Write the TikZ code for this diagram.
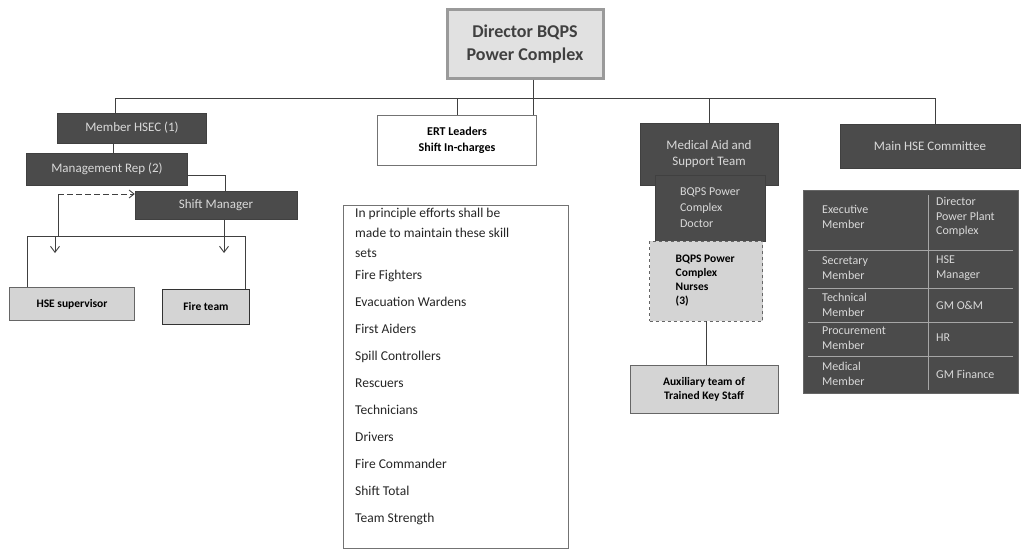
\documentclass[tikz,border=0pt]{standalone}
\usepackage{fontspec}
\setmainfont{Carlito}
\usetikzlibrary{arrows.meta, positioning, calc}

\definecolor{boxdark}{HTML}{4B4B4B}
\definecolor{boxlight}{HTML}{D4D4D4}
\definecolor{framegray}{HTML}{9A9A9A}

\begin{document}
\begin{tikzpicture}[x=1pt, y=-1pt,
        topbox/.style={rectangle, draw=framegray, line width=3pt, fill=boxlight!70!white, font=\bfseries\fontsize{18}{23}\selectfont, text=black!75, align=center},
        darkbox/.style={rectangle, draw=black!75, fill=boxdark, text=white!85!black, font=\fontsize{13}{16}\selectfont, align=center, inner sep=2pt},
        lightbox/.style={rectangle, draw=black!60, fill=boxlight, font=\bfseries\fontsize{11.5}{14}\selectfont, align=center, inner sep=2pt},
        plainbox/.style={rectangle, draw=black!55, line width=0.8pt, fill=white},
        cell/.style={font=\fontsize{12}{14.5}\selectfont, text=white!85!black, align=left, anchor=west, inner sep=0pt},
        link/.style={draw=black!75, line width=0.9pt},
        arrv/.style={link, -{Straight Barb[length=6pt, width=9pt]}},
        dasharr/.style={link, dash pattern=on 6pt off 3pt, -{Straight Barb[length=5pt, width=8pt]}}
    ]
        \useasboundingbox (0,0) rectangle (1024,551);

        % top of the tree
        \node[topbox, minimum width=156, minimum height=68] (dir) at (525,44) {Director BQPS\\Power Complex};
        \coordinate (busW) at (115,98);
        \coordinate (busE) at (935,98);

        % left branch
        \node[darkbox, minimum width=149, minimum height=30] (member) at (132,128) {Member HSEC (1)};
        \node[darkbox, minimum width=161, minimum height=32] (mgmt) at (107,169) {Management Rep (2)};
        \node[darkbox, minimum width=162, minimum height=28] (shift) at (216,205) {Shift Manager};
        \node[lightbox, minimum width=125, minimum height=33] (hsesup) at (72,304) {HSE supervisor};
        \node[lightbox, draw=black!80, line width=1pt, minimum width=87, minimum height=35] (fire) at (206,307) {Fire team};
        \coordinate (split) at (58,194);
        \coordinate (barW) at (27,236);
        \coordinate (barE) at (245,236);
        \coordinate (tipL) at (55,253);
        \coordinate (tipR) at (224,253);

        % middle branch
        \node[plainbox, minimum width=159, minimum height=50, font=\bfseries\fontsize{12}{16}\selectfont, align=center] (ert) at (457,140) {ERT Leaders\\Shift In-charges};
        \node[plainbox, minimum width=225, minimum height=343] (skills) at (455.5,376.5) {};
        \node[anchor=north west, align=left, inner sep=0pt, font=\fontsize{13.5}{20}\selectfont, text=black!85] (skilllist) at (355,208) {In principle efforts shall be\\ made to maintain these skill\\ sets\\[2pt] Fire Fighters\\[7pt] Evacuation Wardens\\[7pt] First Aiders\\[7pt] Spill Controllers\\[7pt] Rescuers\\[7pt] Technicians\\[7pt] Drivers\\[7pt] Fire Commander\\[7pt] Shift Total\\[7pt] Team Strength};

        % medical branch
        \node[darkbox, minimum width=138, minimum height=62] (medteam) at (709,154) {Medical Aid and\\Support Team};
        \node[darkbox, minimum width=110, minimum height=66, align=left, font=\fontsize{12}{16}\selectfont] (doctor) at (710,208) {BQPS Power\\Complex\\Doctor\phantom{xxxxx}};
        \node[lightbox, dashed, minimum width=113, minimum height=80, align=left] (nurses) at (706,281) {BQPS Power\\Complex\\Nurses\\(3)\phantom{xxxxxxxxx}};
        \node[lightbox, minimum width=148, minimum height=48] (aux) at (704,389) {Auxiliary team of\\Trained Key Staff};

        % committee branch
        \node[darkbox, minimum width=180, minimum height=44] (hsecom) at (930,146) {Main HSE Committee};
        \node[rectangle, draw=black!60, fill=boxdark, minimum width=215, minimum height=203] (hsetable) at (910.5,291.5) {};
        \foreach \ry in {250,288,322,356}
            \draw[black!35, line width=0.8pt] (808,\ry) -- (1013,\ry);
        \draw[black!35, line width=0.8pt] (928,195) -- (928,390);
        \foreach \ry/\lt/\rt [count=\i] in {
                217/{Executive\\Member}/{Director\\Power Plant\\Complex},
                268/{Secretary\\Member}/{HSE\\Manager},
                305/{Technical\\Member}/{GM O\&M},
                338/{Procurement\\Member}/{HR},
                374/{Medical\\Member}/{GM Finance}} {
            \node[cell] (left\i) at (822,\ry) {\lt};
            \node[cell] (right\i) at (936,\ry) {\rt};
        }

        % connectors
        \draw[link] (busW) -- (busE);
        \draw[link] ([xshift=8]dir.south) -- ([xshift=8]dir.south |- ert.north);
        \draw[link] (busW) -- (busW |- member.north);
        \draw[link] (ert.north |- busW) -- (ert.north);
        \draw[link] (medteam.north |- busW) -- (medteam.north);
        \draw[link] (busE) -- (busE |- hsecom.north);
        \draw[link] ([xshift=-19]member.south) -- ([xshift=-19]member.south |- mgmt.north);
        \draw[link] ([yshift=-6]mgmt.east) -| ([xshift=9]shift.north);
        \draw[dasharr] (split) -- (split -| shift.west);
        \draw[link] (split) -- (split |- barW);
        \draw[link] (barW) -- (barE);
        \draw[link] ([xshift=8]shift.south) -- ([xshift=8]shift.south |- barW);
        \draw[arrv] (tipL |- barW) -- (tipL);
        \draw[arrv] (tipR |- barW) -- (tipR);
        \draw[link] (barW) -- (barW |- hsesup.north);
        \draw[link] (barE) -- (barE |- fire.north);
        \draw[link] (nurses.south) -- (nurses.south |- aux.north);
    \end{tikzpicture}
\end{document}
